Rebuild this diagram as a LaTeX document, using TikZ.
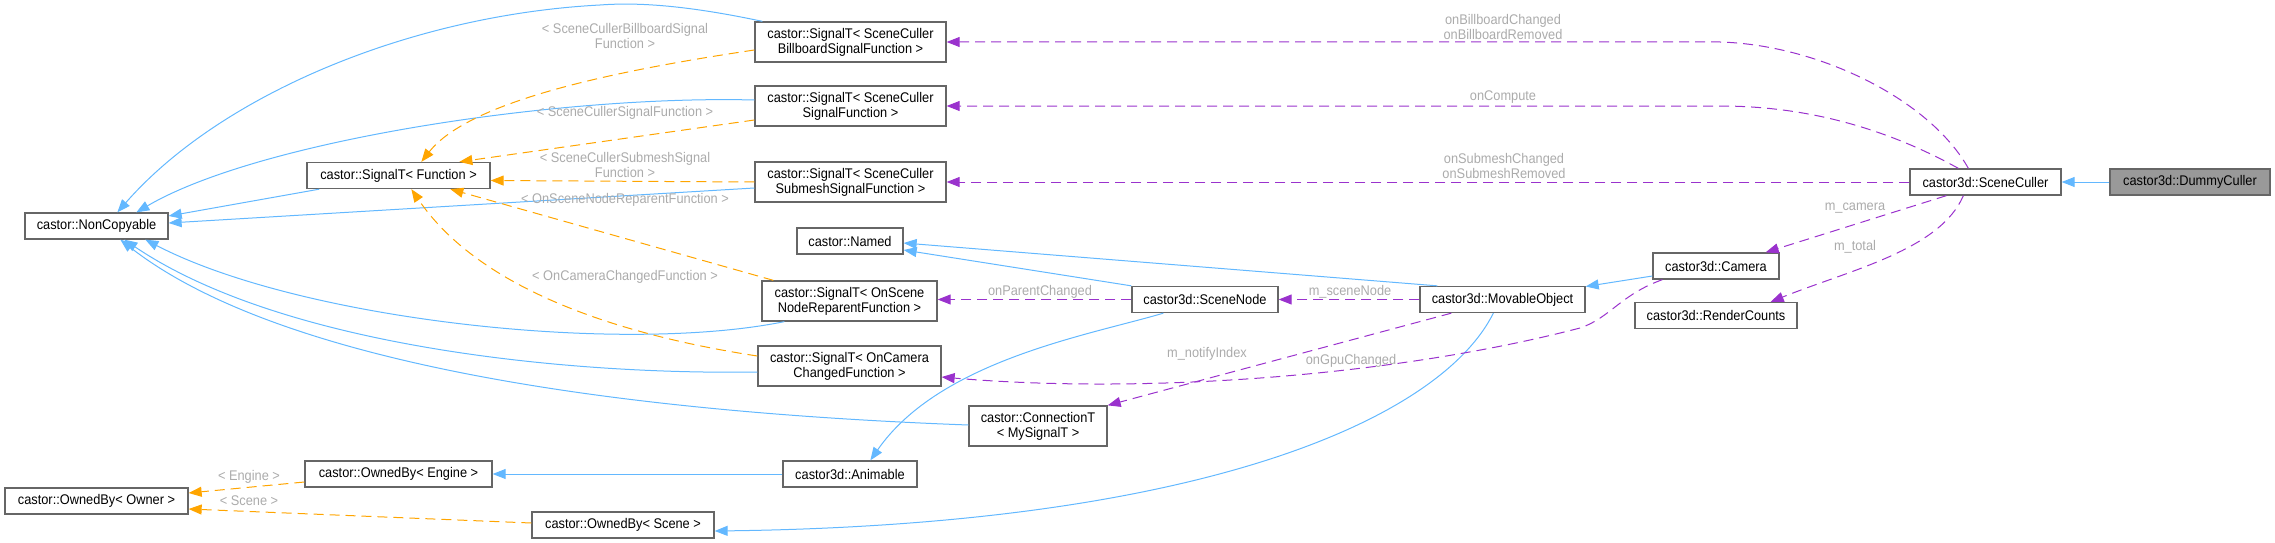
\documentclass[tikz,border=0pt]{standalone}
\usepackage{fontspec}
\setmainfont{Liberation Sans}[FakeStretch=0.914]
\usetikzlibrary{arrows.meta,calc}
\definecolor{inhblue}{HTML}{63B8FF}
\definecolor{tmplorange}{HTML}{FFA500}
\definecolor{usepurple}{HTML}{9A32CD}
\definecolor{lblgrey}{HTML}{ABABAB}
\definecolor{boxgrey}{HTML}{666666}
\definecolor{hlgrey}{HTML}{999999}
\begin{document}
\begin{tikzpicture}[x=1pt,y=-1pt,
  box/.style={draw=boxgrey, line width=1.3pt, fill=white, inner sep=0pt, align=center, text=black,
    font=\fontsize{14}{15}\selectfont},
  lbl/.style={text=lblgrey, inner sep=0pt, align=center, font=\fontsize{14}{15}\selectfont},
  tip/.style={-{Triangle[length=13pt,width=10pt]}},
  inh/.style={draw=inhblue, line width=1pt, tip},
  tmpl/.style={draw=tmplorange, line width=1pt, dash pattern=on 10pt off 6pt, tip},
  use/.style={draw=usepurple, line width=1pt, dash pattern=on 10pt off 6pt, tip}]
\useasboundingbox (0,0) rectangle (2275,543);
% nodes
\node[box, minimum width=143pt, minimum height=26pt] (nc) at (96.5,226) {castor::NonCopyable};
\node[box, minimum width=183pt, minimum height=26pt] (sigF) at (398.5,175.5) {castor::SignalT< Function >};
\node[box, minimum width=191pt, minimum height=40pt] (sigB) at (850.5,42) {castor::SignalT< SceneCuller\\BillboardSignalFunction >};
\node[box, minimum width=191pt, minimum height=40pt] (sigS) at (850.5,106) {castor::SignalT< SceneCuller\\SignalFunction >};
\node[box, minimum width=191pt, minimum height=40pt] (sigSM) at (850.5,182) {castor::SignalT< SceneCuller\\SubmeshSignalFunction >};
\node[box, minimum width=106pt, minimum height=26pt] (named) at (850,241) {castor::Named};
\node[box, minimum width=175pt, minimum height=40pt] (sigR) at (849.5,301) {castor::SignalT< OnScene\\NodeReparentFunction >};
\node[box, minimum width=183pt, minimum height=40pt] (sigC) at (849.5,366) {castor::SignalT< OnCamera\\ChangedFunction >};
\node[box, minimum width=138pt, minimum height=40pt] (conn) at (1038,426) {castor::ConnectionT\\< MySignalT >};
\node[box, minimum width=134pt, minimum height=26pt] (anim) at (850,474) {castor3d::Animable};
\node[box, minimum width=187pt, minimum height=26pt] (obE) at (398.5,474) {castor::OwnedBy< Engine >};
\node[box, minimum width=183pt, minimum height=26pt] (obO) at (96.5,501) {castor::OwnedBy< Owner >};
\node[box, minimum width=182pt, minimum height=26pt] (obS) at (623,525) {castor::OwnedBy< Scene >};
\node[box, minimum width=146pt, minimum height=26pt] (sn) at (1205,299.5) {castor3d::SceneNode};
\node[box, minimum width=165pt, minimum height=26pt] (mo) at (1502.5,299.5) {castor3d::MovableObject};
\node[box, minimum width=126pt, minimum height=26pt] (cam) at (1716,266) {castor3d::Camera};
\node[box, minimum width=162pt, minimum height=26pt] (rc) at (1716,315.5) {castor3d::RenderCounts};
\node[box, minimum width=151pt, minimum height=26pt] (sc) at (1985.5,182) {castor3d::SceneCuller};
\node[box, minimum width=160pt, minimum height=26pt, fill=hlgrey] (dc) at (2190,182) {castor3d::DummyCuller};
% inheritance (blue)
\draw[inh] (dc.west) -- (sc.east);
\draw[inh] ($(sigB.north west)+(8,0)$) .. controls (690,6) and (640,2) .. (600,5) .. controls (410,15) and (220,95) .. ($(nc.north west)+(93,0)$);
\draw[inh] ($(sigS.west)+(0,-6)$) .. controls (560,95) and (260,140) .. ($(nc.north west)+(112,0)$);
\draw[inh] ($(sigF.south west)+(13,0)$) -- ($(nc.east)+(0,-10)$);
\draw[inh] ($(sigSM.west)+(0,6)$) -- ($(nc.east)+(0,-3)$);
\draw[inh] ($(sigR.south west)+(23,0)$) .. controls (620,355) and (300,320) .. ($(nc.south west)+(121,0)$);
\draw[inh] ($(sigC.west)+(0,6)$) .. controls (560,375) and (280,345) .. ($(nc.south west)+(100,0)$);
\draw[inh] ($(conn.west)+(0,-1)$) .. controls (700,415) and (300,380) .. ($(nc.south west)+(96,0)$);
\draw[inh] (sn.north west) -- ($(named.east)+(0,9)$);
\draw[inh] ($(mo.north west)+(18,0)$) -- ($(named.east)+(0,2)$);
\draw[inh] ($(sn.south west)+(32,0)$) .. controls (1090,335) and (940,360) .. ($(anim.north west)+(88,0)$);
\draw[inh] ($(mo.south west)+(74,0)$) .. controls (1440,420) and (1200,525) .. ($(obS.east)+(0,6)$);
\draw[inh] (anim.west) -- (obE.east);
\draw[inh] ($(cam.west)+(0,10)$) -- ($(mo.east)+(0,-13)$);
% template instances (orange)
\draw[tmpl] ($(sigB.west)+(0,8)$) .. controls (620,70) and (470,100) .. ($(sigF.north west)+(115,0)$);
\draw[tmpl] ($(sigS.west)+(0,14)$) -- ($(sigF.north west)+(153,0)$);
\draw[tmpl] (sigSM.west) -- ($(sigF.east)+(0,5)$);
\draw[tmpl] ($(sigR.north west)+(12,0)$) -- ($(sigF.south west)+(144,0)$);
\draw[tmpl] ($(sigC.west)+(0,-10)$) .. controls (620,335) and (480,290) .. ($(sigF.south west)+(105,0)$);
\draw[tmpl] ($(obE.west)+(0,8)$) -- ($(obO.east)+(0,-8)$);
\draw[tmpl] ($(obS.west)+(0,-2)$) -- ($(obO.east)+(0,8)$);
% usage (purple)
\draw[use] ($(sc.north west)+(59,0)$) .. controls (1930,100) and (1820,45) .. (1720,42) -- (sigB.east);
\draw[use] ($(sc.north west)+(49,0)$) .. controls (1880,125) and (1800,106) .. (1720,106) -- (sigS.east);
\draw[use] (sc.west) -- (sigSM.east);
\draw[use] ($(sc.south west)+(37,0)$) -- ($(cam.north east)+(-14,0)$);
\draw[use] ($(sc.south west)+(54,0)$) .. controls (1940,250) and (1850,270) .. ($(rc.north east)+(-27,0)$);
\draw[use] (sn.west) -- ($(sigR.east)+(0,-1.5)$);
\draw[use] (mo.west) -- (sn.east);
\draw[use] ($(mo.south west)+(32,0)$) -- (conn.north east);
\draw[use] ($(cam.south west)+(10,0)$) .. controls (1620,295) and (1610,318) .. (1580,328) .. controls (1400,375) and (1150,395) .. ($(sigC.east)+(0,11)$);
% labels
\node[lbl] (t1) at (625,36) {< SceneCullerBillboardSignal\\Function >};
\node[lbl] (t2) at (625,113) {< SceneCullerSignalFunction >};
\node[lbl] (t3) at (625,164.5) {< SceneCullerSubmeshSignal\\Function >};
\node[lbl] (t4) at (625,200) {< OnSceneNodeReparentFunction >};
\node[lbl] (t5) at (625,277) {< OnCameraChangedFunction >};
\node[lbl] (t6) at (249,477) {< Engine >};
\node[lbl] (t7) at (249,501) {< Scene >};
\node[lbl] (u1) at (1503,27) {onBillboardChanged\\onBillboardRemoved};
\node[lbl] (u2) at (1503,97) {onCompute};
\node[lbl] (u3) at (1504,166) {onSubmeshChanged\\onSubmeshRemoved};
\node[lbl] (u4) at (1855,208) {m\_camera};
\node[lbl] (u5) at (1855,247) {m\_total};
\node[lbl] (u6) at (1040,292) {onParentChanged};
\node[lbl] (u7) at (1350,292) {m\_sceneNode};
\node[lbl] (u8) at (1207,354) {m\_notifyIndex};
\node[lbl] (u9) at (1351,361) {onGpuChanged};
\end{tikzpicture}
\end{document}
